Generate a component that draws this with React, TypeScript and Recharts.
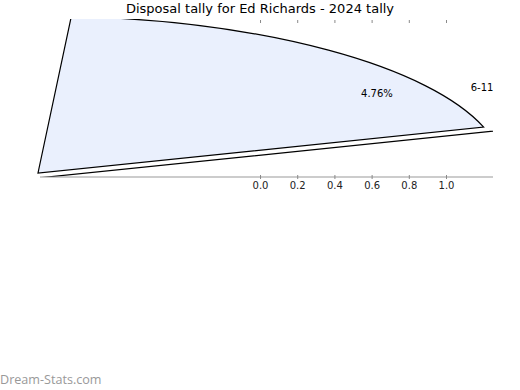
import { ComposedChart, XAxis, PieChart, Pie, Cell } from 'recharts';

// slice names and their shares (%)
const categories = ['6-11'];
const shares = [4.76];
const restShares = [95.24];

// radial scale ticks shown along the bottom
const xTicks = [0, 0.2, 0.4, 0.6, 0.8, 1.0];

const pieData = categories.map((name, i) => ({ name, value: shares[i] }));
const restData = restShares.map((value) => ({ name: 'rest', value }));
const axisData = xTicks.map((x) => ({ x }));

// the source image is a squashed (elliptical) pie, so sectors get scaled on y
const CX = 38;
const CY = 173;
const R = 466;
const SY = 0.337;
const REST_CY = CY + 5 / SY;
const X_DOMAIN: [number, number] = [-1.1857, 1.25];

const FONT = '"DejaVu Sans", sans-serif';
const TICK_COLOR = '#8a8a8a';
const PLOT_TOP = 20;

const css = `
.pie-main path.recharts-sector, .pie-rest path.recharts-sector {
  transform-origin: ${CX}px ${CY}px;
  transform: scale(1, ${SY});
  vector-effect: non-scaling-stroke;
}
`;

function polar(cx: number, cy: number, r: number, angle: number) {
  const a = (angle * Math.PI) / 180;
  return { x: cx + r * Math.cos(a), y: cy - r * SY * Math.sin(a) };
}

function SliceLabel(props: any) {
  const { cx, cy, outerRadius, value } = props;
  const name = props.payload?.name ?? props.name;
  const pct = polar(cx, cy, outerRadius * 0.888, 35);
  const lab = polar(cx, cy, outerRadius * 1.096, 29.6);
  return (
    <g>
      <text x={pct.x} y={pct.y} textAnchor="middle" dominantBaseline="central" fontSize={10} fontFamily={FONT} fill="#000">
        {`${Number(value).toFixed(2)}%`}
      </text>
      <text x={lab.x} y={lab.y} textAnchor="middle" dominantBaseline="central" fontSize={10} fontFamily={FONT} fill="#000">
        {name}
      </text>
    </g>
  );
}

// tick mark at the bottom axis, matching mark along the top edge, and label
function AxisTick(props: any) {
  const { x, y, payload } = props;
  return (
    <g>
      <line x1={x} x2={x} y1={PLOT_TOP} y2={PLOT_TOP + 3} stroke={TICK_COLOR} strokeWidth={1} />
      <line x1={x} x2={x} y1={y - 7} y2={y - 3} stroke={TICK_COLOR} strokeWidth={1} />
      <text x={x} y={y} dy="0.71em" textAnchor="middle" fontSize={10} fontFamily={FONT} fill="#222">
        {Number(payload.value).toFixed(1)}
      </text>
    </g>
  );
}

export default function App() {
  return (
    <div style={{ position: 'absolute', left: 0, top: 0, width: 520, height: 390, background: '#fff', fontFamily: FONT }}>
      <style>{css}</style>
      <div style={{ position: 'absolute', left: 0, top: 0, width: 520, height: 17, lineHeight: '17px', textAlign: 'center', fontSize: 13, color: '#000' }}>
        Disposal tally for Ed Richards - 2024 tally
      </div>

      <div style={{ position: 'absolute', left: 0, top: 0, width: 493, height: 177, overflow: 'hidden', clipPath: 'inset(19px 0 0 0)' }}>
        <div className="pie-rest" style={{ position: 'absolute', left: 0, top: 0 }}>
          <PieChart width={493} height={177} margin={{ top: 0, right: 0, bottom: 0, left: 0 }}>
            <Pie
              data={restData}
              dataKey="value"
              nameKey="name"
              cx={CX}
              cy={REST_CY}
              outerRadius={520}
              startAngle={16.98}
              endAngle={-90}
              isAnimationActive={false}
              label={false}
              labelLine={false}
            >
              {restData.map((d) => (
                <Cell key={d.name} fill="none" stroke="#000" strokeWidth={1.2} />
              ))}
            </Pie>
          </PieChart>
        </div>
        <div className="pie-main" style={{ position: 'absolute', left: 0, top: 0 }}>
          <PieChart width={493} height={177} margin={{ top: 0, right: 0, bottom: 0, left: 0 }}>
            <Pie
              data={pieData}
              dataKey="value"
              nameKey="name"
              cx={CX}
              cy={CY}
              outerRadius={R}
              startAngle={16.98}
              endAngle={85.9}
              isAnimationActive={false}
              label={SliceLabel}
              labelLine={false}
            >
              {pieData.map((d) => (
                <Cell key={d.name} fill="#eaf0fd" stroke="#000" strokeWidth={1.2} />
              ))}
            </Pie>
          </PieChart>
        </div>
      </div>

      <div style={{ position: 'absolute', left: 0, top: 0 }}>
        <ComposedChart width={520} height={390} data={axisData} margin={{ top: PLOT_TOP, right: 27, bottom: 183, left: 40 }}>
          <XAxis
            dataKey="x"
            type="number"
            domain={X_DOMAIN}
            allowDataOverflow
            ticks={xTicks}
            height={30}
            axisLine={{ stroke: '#999' }}
            tickLine={false}
            tickSize={2}
            tickMargin={3}
            tick={AxisTick}
          />
        </ComposedChart>
      </div>

      <div style={{ position: 'absolute', left: 0, top: 371, height: 17, lineHeight: '17px', fontSize: 12.6, color: '#999', fontFamily: '"Open Sans", sans-serif' }}>
        Dream-Stats.com
      </div>
    </div>
  );
}
